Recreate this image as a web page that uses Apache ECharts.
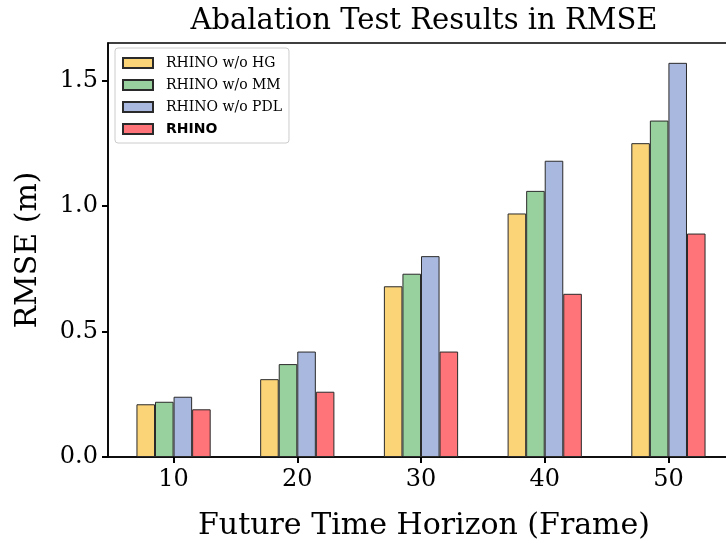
<!DOCTYPE html>
<html><head><meta charset="utf-8">
<script src="https://cdn.jsdelivr.net/npm/echarts@6/dist/echarts.min.js"></script>
<style>html,body{margin:0;padding:0;background:#fff}#c{width:726px;height:545px}</style>
</head><body><div id="c"></div>
<script>
const categories = ['10', '20', '30', '40', '50'];
const seriesNames = ['RHINO w/o HG', 'RHINO w/o MM', 'RHINO w/o PDL', 'RHINO'];
const hgValues  = [0.21, 0.31, 0.68, 0.97, 1.25];
const mmValues  = [0.22, 0.37, 0.73, 1.06, 1.34];
const pdlValues = [0.24, 0.42, 0.80, 1.18, 1.57];
const rhinoValues = [0.19, 0.26, 0.42, 0.65, 0.89];
const yTicks = [0, 0.5, 1.0, 1.5];
const colors = ['#FBD478', '#98D19E', '#A8B8DF', '#FF7479'];

const serif = 'DejaVu Serif';
const allValues = [hgValues, mmValues, pdlValues, rhinoValues];
const catIdx = categories.map((c, i) => i);

const chart = echarts.init(document.getElementById('c'), null, {renderer: 'canvas'});
chart.setOption({
  animation: false,
  backgroundColor: '#fff',
  title: {
    text: 'Abalation Test Results in RMSE',
    left: 419, top: 2, textAlign: 'center',
    textStyle: {fontFamily: serif, fontSize: 29, fontWeight: 'normal', color: '#000'}
  },
  grid: {left: 108, top: 43, right: -8, bottom: 88, outerBoundsMode: 'none', containLabel: false,
    show: true, borderColor: '#000', borderWidth: 1.5, backgroundColor: 'transparent'},
  legend: {
    orient: 'vertical', left: 115, top: 48,
    icon: 'rect',
    itemWidth: 30, itemHeight: 10, itemGap: 8,
    padding: [8, 7, 7, 7],
    borderColor: '#cccccc', borderWidth: 1, borderRadius: 3,
    data: seriesNames,
    formatter: n => n === 'RHINO' ? '{b|RHINO}' : '{a|' + n + '}',
    textStyle: {fontFamily: serif, fontSize: 14, color: '#000',
      rich: {
        a: {fontFamily: serif, fontSize: 14, color: '#000', padding: [0, 0, 0, 8]},
        b: {fontFamily: 'DejaVu Sans', fontWeight: 'bold', fontSize: 14, color: '#000', padding: [0, 0, 0, 8]}
      }}
  },
  xAxis: {
    type: 'value', min: -0.53, max: 4.53,
    name: 'Future Time Horizon (Frame)', nameLocation: 'middle', nameGap: 54,
    nameTextStyle: {fontFamily: serif, fontSize: 30, color: '#000', padding: [0, 0, 0, 6]},
    axisLine: {onZero: false, lineStyle: {color: '#000', width: 1.6}},
    axisTick: {show: true, length: 6, customValues: catIdx, lineStyle: {color: '#000', width: 2}},
    axisLabel: {customValues: catIdx, formatter: v => categories[Math.round(v)], fontFamily: serif, fontSize: 24, color: '#000', margin: 11},
    splitLine: {show: false}
  },
  yAxis: {
    type: 'value', min: 0, max: 1.649,
    name: 'RMSE (m)', nameLocation: 'middle', nameGap: 65, nameRotate: 90,
    nameTextStyle: {fontFamily: serif, fontSize: 30, color: '#000'},
    axisLine: {show: true, onZero: false, lineStyle: {color: '#000', width: 1.6}},
    axisTick: {show: true, length: 6, customValues: yTicks, lineStyle: {color: '#000', width: 2}},
    axisLabel: {customValues: yTicks, formatter: v => v.toFixed(1), fontFamily: serif, fontSize: 24, color: '#000', margin: 10},
    splitLine: {show: false}
  },
  series: seriesNames.map((n, s) => ({
    name: n, type: 'bar',
    barWidth: '15%', barGap: '0%',
    data: allValues[s].map((v, i) => [catIdx[i], v]),
    itemStyle: {color: colors[s], borderColor: '#2a2a2a', borderWidth: 1}
  }))
});
</script></body></html>
